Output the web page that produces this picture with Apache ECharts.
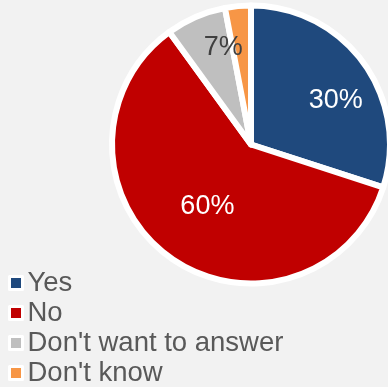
<!DOCTYPE html>
<html>
<head>
<meta charset="utf-8">
<style>
  html, body { margin: 0; padding: 0; background: #f2f2f2; }
  #chart { width: 388px; height: 387px; }
</style>
<script src="https://cdn.jsdelivr.net/npm/echarts@6/dist/echarts.min.js"></script>
</head>
<body>
<div id="chart"></div>
<script>
// Survey answers, in percent
const categories = ['Yes', 'No', "Don't want to answer", "Don't know"];
const values = [30, 60, 7, 3];
const sliceColors = ['#1f497d', '#c00000', '#bfbfbf', '#f79646'];
const labelColors = ['#ffffff', '#ffffff', '#404040', '#404040'];
const showLabel = [true, true, true, false];
// nudges that move each percentage label away from the default mid-radius spot
const labelShift = [[26, -1], [-1, 3], [1, -30], [0, 0]];

const FONT = '"Liberation Sans", Arial, sans-serif';

const chart = echarts.init(document.getElementById('chart'), null, { renderer: 'canvas' });

chart.setOption({
  backgroundColor: '#f2f2f2',
  animation: false,
  legend: {
    orient: 'vertical',
    left: 8,
    top: 269,
    height: 140,
    padding: 0,
    itemWidth: 13,
    itemHeight: 13,
    itemGap: 2,
    icon: 'rect',
    itemStyle: { borderColor: '#ffffff', borderWidth: 3 },
    textStyle: { fontFamily: FONT, fontSize: 27.5, lineHeight: 27, color: '#595959' },
    data: categories
  },
  series: [{
    type: 'pie',
    center: [251, 144.5],
    radius: [0, 139],
    startAngle: 90,
    clockwise: true,
    avoidLabelOverlap: false,
    silent: true,
    itemStyle: { borderColor: '#ffffff', borderWidth: 6 },
    label: {
      position: 'inside',
      formatter: '{c}%',
      fontFamily: FONT,
      fontSize: 27
    },
    labelLine: { show: false },
    labelLayout: function (params) {
      const s = labelShift[params.dataIndex];
      return { dx: s[0], dy: s[1] };
    },
    emphasis: { disabled: true },
    data: categories.map(function (name, i) {
      return {
        name: name,
        value: values[i],
        itemStyle: { color: sliceColors[i] },
        label: { show: showLabel[i], color: labelColors[i] }
      };
    })
  }]
});
</script>
</body>
</html>
